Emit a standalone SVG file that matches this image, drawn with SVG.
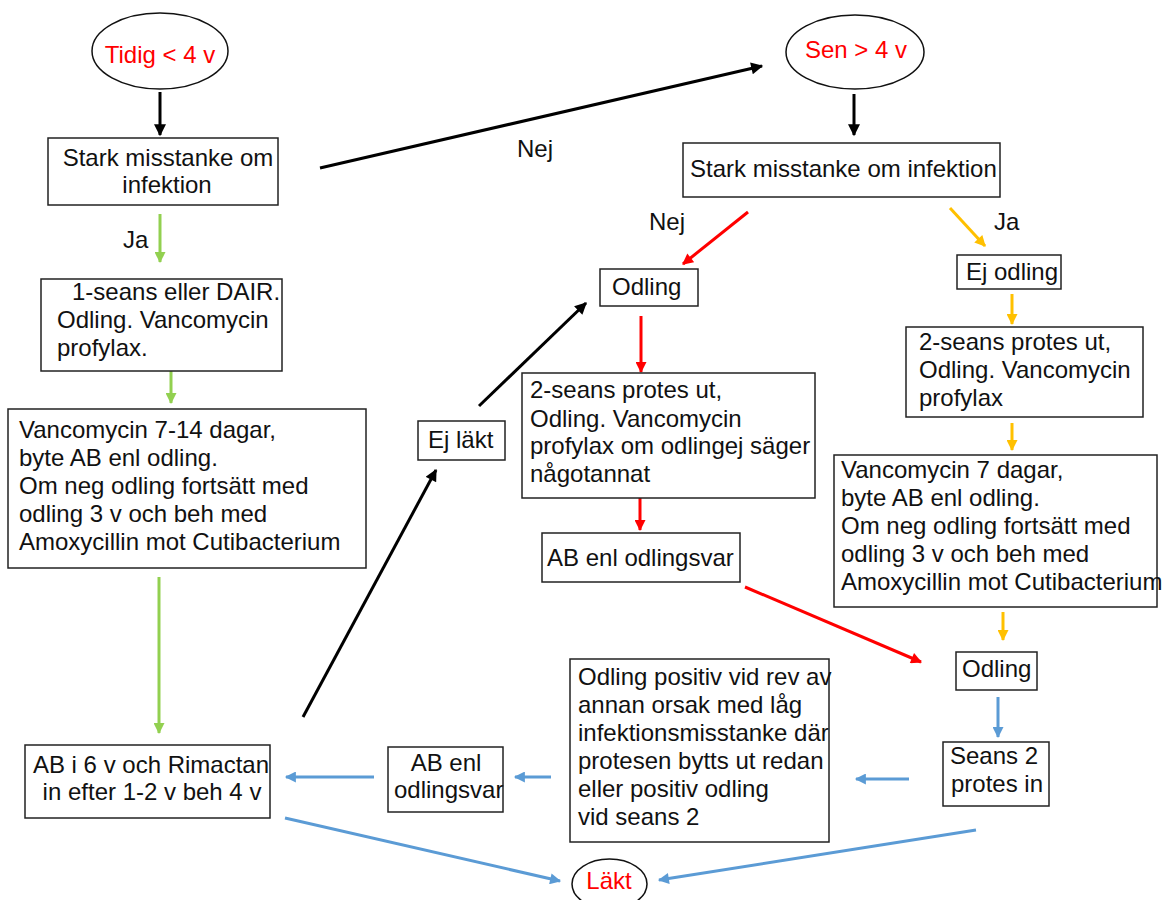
<svg xmlns="http://www.w3.org/2000/svg" width="1165" height="900" viewBox="0 0 1165 900">
<style>
  .box { fill: #ffffff; stroke: #222222; stroke-width: 1.5; }
  .ell { fill: #ffffff; stroke: #111111; stroke-width: 1.5; }
  text { font-family: "Liberation Sans", Arial, sans-serif; font-size: 24px; fill: #111111; }
  .red { fill: #ff0000; }
  .c { stroke-width: 3; fill: none; }
  .k { stroke: #000000; marker-end: url(#ah-k); }
  .g { stroke: #92d050; marker-end: url(#ah-g); }
  .r { stroke: #ff0000; marker-end: url(#ah-r); }
  .y { stroke: #ffc000; marker-end: url(#ah-y); }
  .b { stroke: #5b9bd5; marker-end: url(#ah-b); }
</style>
<defs>
  <marker id="ah-k" viewBox="0 0 10 10" refX="9" refY="5" markerWidth="13" markerHeight="12" markerUnits="userSpaceOnUse" orient="auto"><path d="M0,0 L10,5 L0,10 z" fill="#000000"/></marker>
  <marker id="ah-g" viewBox="0 0 10 10" refX="9" refY="5" markerWidth="12" markerHeight="11" markerUnits="userSpaceOnUse" orient="auto"><path d="M0,0 L10,5 L0,10 z" fill="#92d050"/></marker>
  <marker id="ah-r" viewBox="0 0 10 10" refX="9" refY="5" markerWidth="12" markerHeight="11" markerUnits="userSpaceOnUse" orient="auto"><path d="M0,0 L10,5 L0,10 z" fill="#ff0000"/></marker>
  <marker id="ah-y" viewBox="0 0 10 10" refX="9" refY="5" markerWidth="12" markerHeight="11" markerUnits="userSpaceOnUse" orient="auto"><path d="M0,0 L10,5 L0,10 z" fill="#ffc000"/></marker>
  <marker id="ah-b" viewBox="0 0 10 10" refX="9" refY="5" markerWidth="12" markerHeight="11" markerUnits="userSpaceOnUse" orient="auto"><path d="M0,0 L10,5 L0,10 z" fill="#5b9bd5"/></marker>
</defs>
<rect width="1165" height="900" fill="#ffffff"/>

<g id="connectors">
  <line class="c k" x1="160" y1="92" x2="160" y2="135"/>
  <line class="c k" x1="320" y1="168" x2="762" y2="66"/>
  <line class="c k" x1="854" y1="94" x2="854" y2="135"/>
  <line class="c r" x1="748" y1="212" x2="683" y2="264"/>
  <line class="c y" x1="950" y1="208" x2="985" y2="246"/>
  <line class="c g" x1="160" y1="214" x2="160" y2="262"/>
  <line class="c g" x1="171" y1="371" x2="171" y2="403"/>
  <line class="c g" x1="159" y1="577" x2="159" y2="733"/>
  <line class="c k" x1="303" y1="717" x2="436" y2="470"/>
  <line class="c k" x1="479" y1="406" x2="586" y2="303"/>
  <line class="c r" x1="641" y1="316" x2="641" y2="372"/>
  <line class="c r" x1="640" y1="498" x2="640" y2="530"/>
  <line class="c r" x1="745" y1="587" x2="921" y2="662"/>
  <line class="c y" x1="1012" y1="294" x2="1012" y2="324"/>
  <line class="c y" x1="1012" y1="423" x2="1012" y2="450"/>
  <line class="c y" x1="1003" y1="612" x2="1003" y2="640"/>
  <line class="c b" x1="998" y1="697" x2="998" y2="737"/>
  <line class="c b" x1="909" y1="779" x2="856" y2="779"/>
  <line class="c b" x1="551" y1="777" x2="515" y2="777"/>
  <line class="c b" x1="374" y1="777" x2="286" y2="777"/>
  <line class="c b" x1="285" y1="818" x2="560" y2="881"/>
  <line class="c b" x1="976" y1="830" x2="659" y2="880"/>
</g>

<g id="label-nej-top"><text x="517" y="157">Nej</text></g>
<g id="label-ja-left"><text x="123" y="248">Ja</text></g>
<g id="label-nej-right"><text x="649" y="230">Nej</text></g>
<g id="label-ja-right"><text x="994" y="230">Ja</text></g>

<g id="tidig">
  <ellipse class="ell" cx="160" cy="51" rx="68" ry="38"/>
  <text class="red" x="160" y="63" text-anchor="middle">Tidig &lt; 4 v</text>
</g>
<g id="sen">
  <ellipse class="ell" cx="855" cy="52" rx="69" ry="37"/>
  <text class="red" x="856" y="58" text-anchor="middle">Sen &gt; 4 v</text>
</g>

<g id="stark-left">
  <rect class="box" x="48" y="138" width="230" height="67"/>
  <text x="168" y="166" text-anchor="middle">Stark misstanke om</text>
  <text x="167" y="193" text-anchor="middle">infektion</text>
</g>
<g id="stark-right">
  <rect class="box" x="683" y="143" width="317" height="54"/>
  <text x="690" y="177">Stark misstanke om infektion</text>
</g>

<g id="odling-1">
  <rect class="box" x="600" y="269" width="98" height="37"/>
  <text x="612" y="295">Odling</text>
</g>
<g id="ej-odling">
  <rect class="box" x="957" y="255" width="104" height="34"/>
  <text x="966" y="280">Ej odling</text>
</g>

<g id="ett-seans">
  <rect class="box" x="41" y="279" width="241" height="92"/>
  <text x="72" y="300">1-seans eller DAIR.</text>
  <text x="57" y="328">Odling. Vancomycin</text>
  <text x="57" y="356">profylax.</text>
</g>

<g id="vanco-left">
  <rect class="box" x="8" y="409" width="358" height="159"/>
  <text x="19" y="438">Vancomycin 7-14 dagar,</text>
  <text x="19" y="466">byte AB enl odling.</text>
  <text x="19" y="494">Om neg odling fortsätt med</text>
  <text x="19" y="522">odling 3 v och beh med</text>
  <text x="19" y="550">Amoxycillin mot Cutibacterium</text>
</g>

<g id="ej-lakt">
  <rect class="box" x="418" y="421" width="87" height="39"/>
  <text x="428" y="448">Ej läkt</text>
</g>

<g id="tva-seans-nej">
  <rect class="box" x="522" y="373" width="293" height="125"/>
  <text x="530" y="398">2-seans protes ut,</text>
  <text x="530" y="427">Odling. Vancomycin</text>
  <text x="530" y="454">profylax om odlingej säger</text>
  <text x="530" y="482">någotannat</text>
</g>

<g id="ab-enl-odlingsvar-1">
  <rect class="box" x="542" y="533" width="198" height="49"/>
  <text x="547" y="566">AB enl odlingsvar</text>
</g>

<g id="tva-seans-ja">
  <rect class="box" x="906" y="327" width="237" height="90"/>
  <text x="919" y="350">2-seans protes ut,</text>
  <text x="919" y="378">Odling. Vancomycin</text>
  <text x="919" y="406">profylax</text>
</g>

<g id="vanco-right">
  <rect class="box" x="834" y="455" width="323" height="152"/>
  <text x="841" y="478">Vancomycin 7 dagar,</text>
  <text x="841" y="506">byte AB enl odling.</text>
  <text x="841" y="534">Om neg odling fortsätt med</text>
  <text x="841" y="562">odling 3 v och beh med</text>
  <text x="841" y="590">Amoxycillin mot Cutibacterium</text>
</g>

<g id="odling-2">
  <rect class="box" x="956" y="652" width="81" height="38"/>
  <text x="962" y="677">Odling</text>
</g>

<g id="seans-2">
  <rect class="box" x="943" y="742" width="106" height="64"/>
  <text x="950" y="764">Seans 2</text>
  <text x="951" y="792">protes in</text>
</g>

<g id="odling-positiv">
  <rect class="box" x="570" y="659" width="259" height="183"/>
  <text x="578" y="685">Odling positiv vid rev av</text>
  <text x="578" y="713">annan orsak med låg</text>
  <text x="578" y="741">infektionsmisstanke där</text>
  <text x="578" y="769">protesen bytts ut redan</text>
  <text x="578" y="797">eller positiv odling</text>
  <text x="578" y="825">vid seans 2</text>
</g>

<g id="ab-enl-odlingsvar-2">
  <rect class="box" x="388" y="747" width="115" height="65"/>
  <text x="446" y="771" text-anchor="middle">AB enl</text>
  <text x="394" y="798">odlingsvar</text>
</g>

<g id="ab-6v">
  <rect class="box" x="25" y="745" width="245" height="73"/>
  <text x="151" y="773" text-anchor="middle">AB i 6 v och Rimactan</text>
  <text x="152" y="800" text-anchor="middle">in efter 1-2 v beh 4 v</text>
</g>

<g id="lakt">
  <ellipse class="ell" cx="609.5" cy="884" rx="37.5" ry="25"/>
  <text class="red" x="609" y="889" text-anchor="middle">Läkt</text>
</g>
</svg>
